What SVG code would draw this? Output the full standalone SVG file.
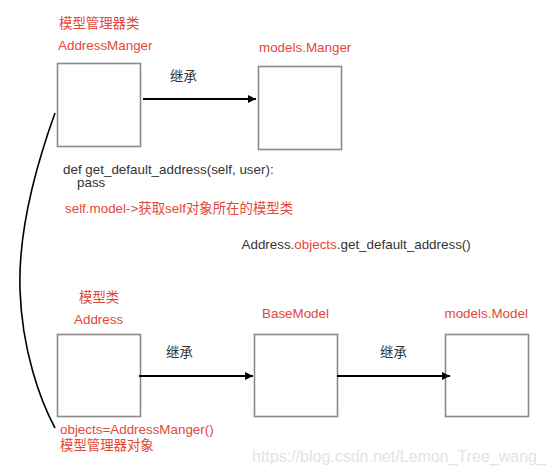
<svg xmlns="http://www.w3.org/2000/svg" width="554" height="473" viewBox="0 0 554 473">
<defs>
<marker id="arrow" markerUnits="userSpaceOnUse" markerWidth="10" markerHeight="10" viewBox="0 0 10 10" refX="9" refY="5" orient="auto">
<path d="M1,1 L9,5 L1,9 Z" fill="#000"/>
</marker>
</defs>
<style>
text{font-family:"Liberation Sans","Noto Sans CJK SC",sans-serif;font-size:13.4px}
.red{fill:#e2483b}
.dark{fill:#333}
.box{fill:#fff;stroke:#8a8a8a;stroke-width:1.6}
.conn{stroke:#000;stroke-width:2;fill:none}
.wm{fill:#e3e3e3;font-size:16px}
</style>
<rect width="554" height="473" fill="#fff"/>
<g id="AddressManger">
<text class="red" x="59" y="27.5">模型管理器类</text>
<text class="red" x="58" y="50">AddressManger</text>
<rect class="box" x="57.5" y="63.5" width="83" height="83"/>
</g>
<g id="models.Manger">
<text class="red" x="259" y="51.5">models.Manger</text>
<rect class="box" x="258.5" y="66.5" width="83" height="83"/>
</g>
<g id="code">
<text class="dark" x="63" y="173.5">def get_default_address(self, user):</text>
<text class="dark" x="77" y="187">pass</text>
<text class="red" x="65" y="212.5">self.model-&gt;获取self对象所在的模型类</text>
<text class="dark" x="241.5" y="249">Address.<tspan class="red">objects</tspan>.get_default_address()</text>
</g>
<g id="Address">
<text class="red" x="79" y="302">模型类</text>
<text class="red" x="74" y="324">Address</text>
<rect class="box" x="57.5" y="334.5" width="83" height="82"/>
<text class="red" x="60" y="433.5">objects=AddressManger()</text>
<text class="red" x="60" y="449.5">模型管理器对象</text>
</g>
<g id="BaseModel">
<text class="red" x="262" y="318">BaseModel</text>
<rect class="box" x="254.5" y="334.5" width="83" height="82"/>
</g>
<g id="models.Model">
<text class="red" x="444.5" y="318">models.Model</text>
<rect class="box" x="445.5" y="334.5" width="83" height="82"/>
</g>
<g id="connectors">
<path class="conn" d="M143,99 L256,99" marker-end="url(#arrow)"/>
<text class="dark" x="170" y="80.5">继承</text>
<path class="conn" d="M139,376 L253,376" marker-end="url(#arrow)"/>
<text class="dark" x="166" y="357">继承</text>
<path class="conn" d="M337,376 L450,376" marker-end="url(#arrow)"/>
<text class="dark" x="380" y="357">继承</text>
<path d="M55,113 C37,163 18,230 20,290 C22,350 40,400 55,428" fill="none" stroke="#000" stroke-width="1.6"/>
</g>
<text class="wm" x="252" y="462">https://blog.csdn.net/Lemon_Tree_wang_</text>
</svg>
